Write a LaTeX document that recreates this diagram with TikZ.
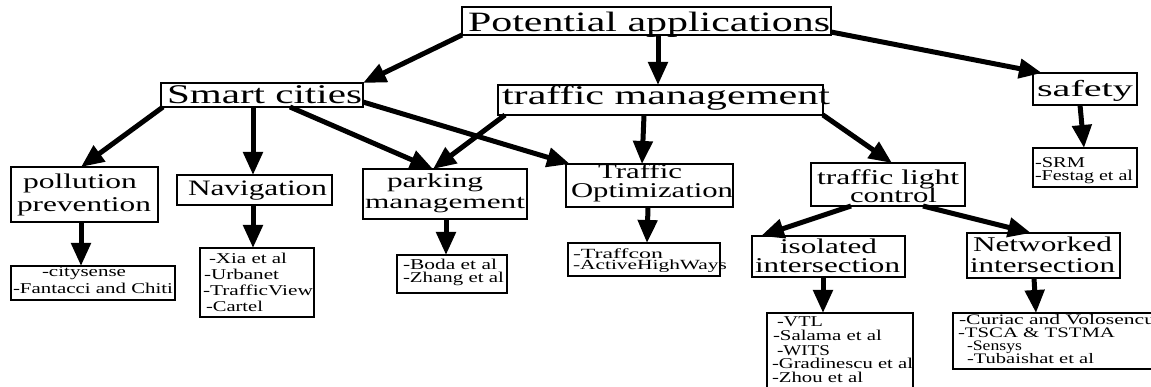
\documentclass[tikz,border=0pt]{standalone}
\usepackage{fontspec}
\setmainfont{Liberation Serif}
\usepackage{graphicx}
\usetikzlibrary{arrows.meta}
\newcommand\Ln[3]{\hspace*{#1pt}\resizebox{#2pt}{\height}{#3}}
\newcommand\T[5]{\makebox[0pt][l]{\hspace*{#1pt}\raisebox{#2pt}[0pt][0pt]{\fontsize{#4pt}{#3pt}\selectfont\vbox{\baselineskip=#3pt\lineskiplimit=-1000pt\lineskip=0pt\halign{##\hfil\cr#5\crcr}}}}}
\tikzset{
  box/.style={draw, line width=2.5pt, inner sep=0pt, outer sep=0pt},
  arr/.style={-{Triangle[length=23pt,width=19pt]}, line width=5pt}
}
\begin{document}
\begin{tikzpicture}[x=1pt,y=-1pt]
\useasboundingbox (0,0) rectangle (1151,387);
% nodes
\node[box,minimum width=369pt,minimum height=28pt] (pot) at (646.5,21) {\T{-184.5}{-11}{28}{28}{\Ln{6}{362}{Potential applications}}};
\node[box,minimum width=202pt,minimum height=24pt] (smart) at (262,95) {\T{-101}{-9}{27}{27}{\Ln{6}{195}{Smart cities}}};
\node[box,minimum width=325pt,minimum height=30pt] (tm) at (660.5,100) {\T{-162.5}{-5}{27}{27}{\Ln{4}{328}{traffic management}}};
\node[box,minimum width=104pt,minimum height=32pt] (safety) at (1085,89) {\T{-52}{-8}{23}{23}{\Ln{4}{96}{safety}}};
\node[box,minimum width=104pt,minimum height=39pt] (srm) at (1085,167.5) {\T{-52}{-13.5}{13}{15}{\Ln{2}{50}{-SRM}\cr\Ln{2}{98}{-Festag et al}}};
\node[box,minimum width=147pt,minimum height=55pt] (poll) at (84.5,194.5) {\T{-73.5}{-17.5}{23}{21}{\Ln{12}{114}{pollution}\cr\Ln{6}{134}{prevention}}};
\node[box,minimum width=155pt,minimum height=30pt] (nav) at (254.5,190) {\T{-77.5}{-6}{22}{22}{\Ln{11}{139}{Navigation}}};
\node[box,minimum width=164pt,minimum height=50pt] (park) at (445,194) {\T{-82}{-15}{21}{20}{\Ln{24}{96}{parking}\cr\Ln{2}{160}{management}}};
\node[box,minimum width=167pt,minimum height=43pt] (topt) at (649.5,185.5) {\T{-83.5}{-12.5}{19}{21}{\Ln{32}{84}{Traffic}\cr\Ln{5}{162}{Optimization}}};
\node[box,minimum width=154pt,minimum height=43pt] (tlc) at (888,184.5) {\T{-77}{-18.5}{18}{21}{\Ln{6}{142}{traffic light}\cr\Ln{39}{87}{control}}};
\node[box,minimum width=164pt,minimum height=34pt] (city) at (93,283) {\T{-82}{-11}{17}{15}{\Ln{31}{84}{-citysense}\cr\Ln{2}{160}{-Fantacci and Chiti}}};
\node[box,minimum width=114pt,minimum height=69pt] (xia) at (257,282.5) {\T{-57}{-29.5}{16.33}{15}{\Ln{9}{78}{-Xia et al}\cr\Ln{4}{75}{-Urbanet}\cr\Ln{3}{110}{-TrafficView}\cr\Ln{6}{57}{-Cartel}}};
\node[box,minimum width=110pt,minimum height=38pt] (boda) at (452,274) {\T{-55}{-9}{13}{15}{\Ln{6}{94}{-Boda et al}\cr\Ln{6}{101}{-Zhang et al}}};
\node[box,minimum width=152pt,minimum height=33pt] (traffcon) at (644,259.5) {\T{-76}{-10.5}{11}{14}{\Ln{5}{90}{-Traffcon}\cr\Ln{5}{154}{-ActiveHighWays}}};
\node[box,minimum width=153pt,minimum height=41pt] (iso) at (828.5,256.5) {\T{-76.5}{-16.5}{19}{21}{\Ln{28}{97}{isolated}\cr\Ln{3}{145}{intersection}}};
\node[box,minimum width=153pt,minimum height=45pt] (netw) at (1043.5,255.5) {\T{-76.5}{-17.5}{21}{21}{\Ln{6}{139}{Networked}\cr\Ln{3}{145}{intersection}}};
\node[box,minimum width=146pt,minimum height=78pt] (vtl) at (840,352) {\T{-73}{-31}{14}{15}{\Ln{10}{46}{-VTL}\cr\Ln{6}{109}{-Salama et al}\cr\Ln{10}{53}{-WITS}\cr\Ln{5}{141}{-Gradinescu et al}\cr\Ln{5}{91}{-Zhou et al}}};
\node[box,minimum width=202pt,minimum height=56pt] (cur) at (1054,341) {\T{-101}{-22}{12.67}{14.5}{\Ln{6}{196}{-Curiac and Volosencu}\cr\Ln{5}{157}{-TSCA \& TSTMA}\cr\Ln{14}{55}{-Sensys}\cr\Ln{14}{127}{-Tubaishat et al}}};
% connectors
\draw[arr] (pot.south west) -- (smart.north east);
\draw[arr] ([xshift=11.5pt]pot.south) -- ([xshift=-2.5pt]tm.north);
\draw[arr] ([yshift=-11pt]pot.east) -- ([xshift=9pt]safety.north west);
\draw[arr] ([xshift=2pt]smart.south west) -- ([xshift=-3.5pt]poll.north);
\draw[arr] ([xshift=-9pt]smart.south) -- ([xshift=-1.5pt]nav.north);
\draw[arr] ([xshift=28pt]smart.south) -- ([xshift=-12pt]park.north);
\draw[arr] ([yshift=-7pt]smart.east) -- ([xshift=4pt]topt.north west);
\draw[arr] ([xshift=7pt]tm.south west) -- ([xshift=-12pt]park.north);
\draw[arr] ([xshift=-16.5pt]tm.south) -- ([xshift=-7.5pt]topt.north);
\draw[arr] (tm.south east) -- ([xshift=4pt]tlc.north);
\draw[arr] ([xshift=-5pt]safety.south) -- ([xshift=-1pt]srm.north);
\draw[arr] ([xshift=-3.5pt]poll.south) -- ([xshift=-12pt]city.north);
\draw[arr] ([xshift=-1.5pt]nav.south) -- ([xshift=-4pt]xia.north);
\draw[arr] ([xshift=1pt]park.south) -- ([xshift=-6pt]boda.north);
\draw[arr] ([xshift=-1.5pt]topt.south) -- ([xshift=3pt]traffcon.north);
\draw[arr] ([xshift=-37pt]tlc.south) -- ([xshift=9pt]iso.north west);
\draw[arr] ([xshift=35pt]tlc.south) -- ([xshift=-12.5pt]netw.north);
\draw[arr] ([xshift=-5.5pt]iso.south) -- ([xshift=-17pt]vtl.north);
\draw[arr] ([xshift=-9.5pt]netw.south) -- ([xshift=-18pt]cur.north);
\end{tikzpicture}
\end{document}
